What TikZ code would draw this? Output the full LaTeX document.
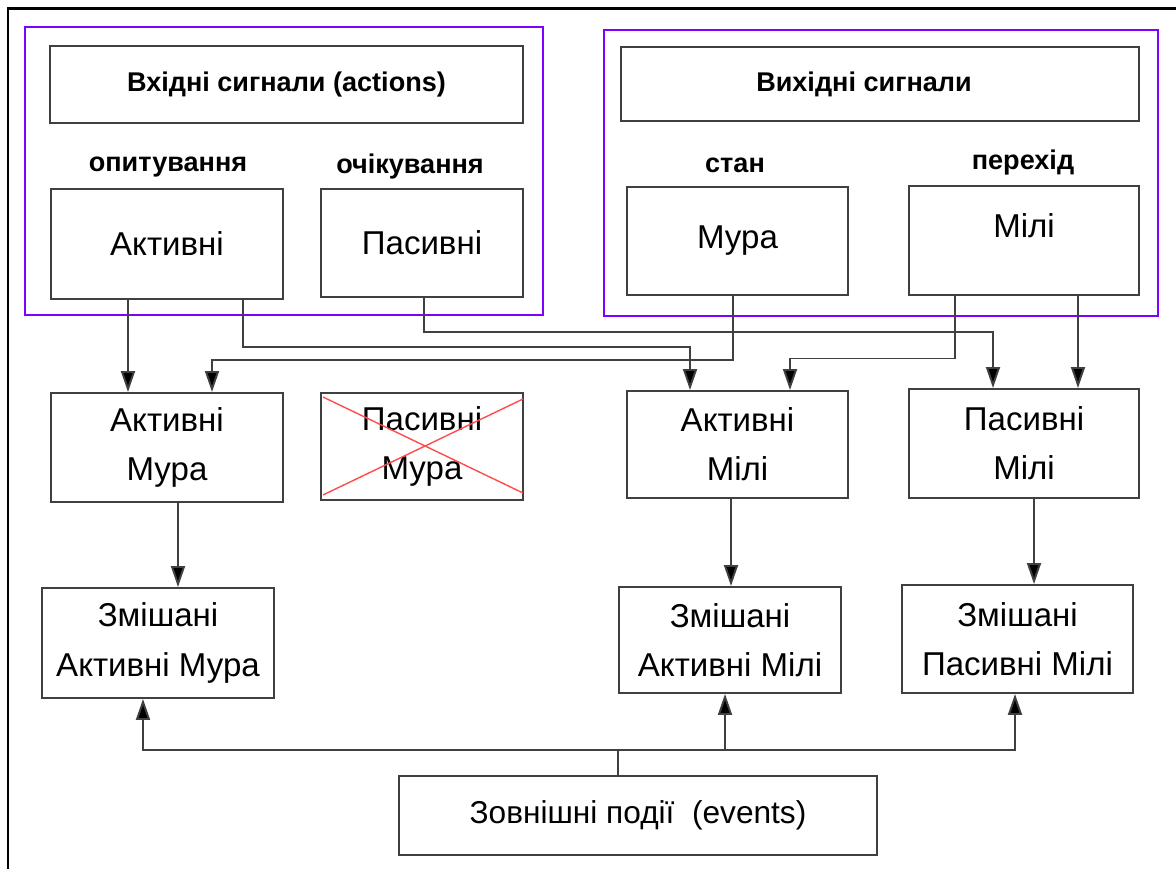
\documentclass[tikz,border=0pt]{standalone}
\usepackage{fontspec}
\setmainfont{Liberation Sans}
\usepackage{xcolor}
\usepackage{tikz}
\usetikzlibrary{arrows.meta}
\definecolor{cadre}{rgb}{0.5, 0.0, 1.0}
\definecolor{trait}{rgb}{0.25, 0.25, 0.25}
\definecolor{croix}{rgb}{1.0, 0.3, 0.3}
\newcommand{\textegrand}{\fontsize{18.8}{28}\selectfont}
\newcommand{\textegras}{\fontsize{15.4}{18}\selectfont\bfseries}

\begin{document}
\begin{tikzpicture}[
    boite/.style={draw=trait, line width=1.1pt, inner sep=0pt, align=center, font=\textegrand},
    etiquette/.style={inner sep=0pt, font=\textegras},
    fleche/.style={draw=trait, line width=1.1pt, -{Triangle[length=0.42cm, width=0.28cm, fill=black]}},
    ligne/.style={draw=trait, line width=1.1pt}
]
    \useasboundingbox (0,0) rectangle (23.52,17.38);

    % Cadre noir
    \draw[line width=1.7pt] (0.16,0) -- (0.16,17.2) -- (23.52,17.2);

    % Groupes violets
    \draw[cadre, line width=1.6pt] (0.5,11.08) rectangle (10.86,16.84);
    \draw[cadre, line width=1.6pt] (12.08,11.06) rectangle (23.16,16.78);

    % Signaux d'entree
    \node[boite, minimum width=9.46cm, minimum height=1.54cm, font=\textegras] (inp) at (5.73,15.69) {Вхідні сигнали (actions)};
    \node[etiquette] (poll) at (3.36,14.04) {опитування};
    \node[etiquette] (wait) at (8.2,14.04) {очікування};
    \node[boite, minimum width=4.64cm, minimum height=2.2cm] (act) at (3.34,12.5) {Активні};
    \node[boite, minimum width=4.04cm, minimum height=2.16cm] (pas) at (8.44,12.52) {Пасивні};

    % Signaux de sortie
    \node[boite, minimum width=10.36cm, minimum height=1.48cm, font=\textegras] (outp) at (17.6,15.7) {Вихідні сигнали\hspace*{0.64cm}};
    \node[etiquette] (state) at (14.7,14.08) {стан};
    \node[etiquette] (trans) at (20.46,14.12) {перехід};
    \node[boite, minimum width=4.42cm, minimum height=2.16cm] (moore) at (14.75,12.56) {Мура};
    \node[boite, minimum width=4.6cm, minimum height=2.18cm, text depth=0.6cm] (mealy) at (20.48,12.57) {Мілі};

    % Automates
    \node[boite, minimum width=4.64cm, minimum height=2.18cm] (am) at (3.34,8.43) {Активні\\Мура};
    \node[boite, minimum width=4.04cm, minimum height=2.14cm] (pm) at (8.44,8.45) {Пасивні\\Мура};
    \node[boite, minimum width=4.42cm, minimum height=2.14cm] (aml) at (14.75,8.49) {Активні\\Мілі};
    \node[boite, minimum width=4.6cm, minimum height=2.18cm] (pml) at (20.48,8.51) {Пасивні\\Мілі};

    % Croix rouge
    \draw[croix, line width=0.8pt] ([shift={(0.06,-0.1)}]pm.north west) -- ([shift={(-0.02,0.16)}]pm.south east);
    \draw[croix, line width=0.8pt] ([shift={(0.06,0.12)}]pm.south west) -- ([shift={(-0.02,-0.14)}]pm.north east);

    % Automates mixtes
    \node[boite, minimum width=4.64cm, minimum height=2.2cm] (mam) at (3.16,4.52) {Змішані\\Активні Мура};
    \node[boite, minimum width=4.44cm, minimum height=2.12cm] (maml) at (14.6,4.58) {Змішані\\Активні Мілі};
    \node[boite, minimum width=4.62cm, minimum height=2.16cm] (mpml) at (20.35,4.6) {Змішані\\Пасивні Мілі};

    % Evenements
    \node[boite, minimum width=9.56cm, minimum height=1.58cm, font=\fontsize{18}{24}\selectfont] (events) at (12.76,1.07) {Зовнішні події\ \ (events)};

    % Niveaux des lignes
    \coordinate (niv2) at (0,10.44);
    \coordinate (niv3) at (0,10.74);
    \coordinate (niv4) at (0,10.18);
    \coordinate (niv5) at (0,10.21);
    \coordinate (niv6) at (0,2.38);

    % Liaisons vers les automates
    \coordinate (a1) at ([xshift=-0.78cm]act.south);
    \draw[fleche] (a1) -- (a1 |- am.north);
    \coordinate (a2) at ([xshift=1.52cm]act.south);
    \coordinate (b2) at ([xshift=-0.95cm]aml.north);
    \draw[fleche] (a2) -- (a2 |- niv2) -| (b2);
    \coordinate (a3) at ([xshift=0.04cm]pas.south);
    \coordinate (b3) at ([xshift=-0.62cm]pml.north);
    \draw[fleche] (a3) -- (a3 |- niv3) -| (b3);
    \coordinate (a4) at ([xshift=-0.09cm]moore.south);
    \coordinate (b4) at ([xshift=0.9cm]am.north);
    \draw[fleche] (a4) -- (a4 |- niv4) -| (b4);
    \coordinate (a5) at ([xshift=-1.38cm]mealy.south);
    \coordinate (b5) at ([xshift=1.05cm]aml.north);
    \draw[fleche] (a5) -- (a5 |- niv5) -| (b5);
    \coordinate (a6) at ([xshift=1.08cm]mealy.south);
    \draw[fleche] (a6) -- (a6 |- pml.north);

    % Liaisons vers les automates mixtes
    \coordinate (a7) at ([xshift=0.22cm]am.south);
    \draw[fleche] (a7) -- (a7 |- mam.north);
    \coordinate (a8) at ([xshift=-0.13cm]aml.south);
    \draw[fleche] (a8) -- (a8 |- maml.north);
    \coordinate (a9) at ([xshift=0.2cm]pml.south);
    \draw[fleche] (a9) -- (a9 |- mpml.north);

    % Evenements vers les automates mixtes
    \coordinate (e0) at ([xshift=-0.4cm]events.north);
    \coordinate (c1) at ([xshift=-0.3cm]mam.south);
    \coordinate (c2) at ([xshift=-0.1cm]maml.south);
    \coordinate (c3) at ([xshift=-0.05cm]mpml.south);
    \draw[fleche] (e0) -- (e0 |- niv6) -| (c1);
    \draw[fleche] (e0 |- niv6) -| (c3);
    \draw[fleche] (c2 |- niv6) -- (c2);
\end{tikzpicture}
\end{document}
